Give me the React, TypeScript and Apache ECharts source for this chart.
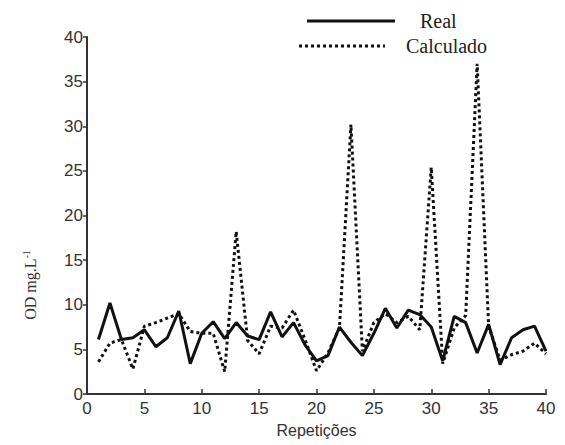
import React, { useEffect, useRef } from "react";
import * as echarts from "echarts";

const repeticoes = Array.from({ length: 40 }, (_, i) => i + 1);
const real = [
  6.1, 10.2, 6.1, 6.3, 7.2, 5.3, 6.3, 9.3, 3.4, 6.8,
  8.1, 6.2, 8.0, 6.5, 6.1, 9.2, 6.4, 8.0, 5.5, 3.7,
  4.3, 7.5, 5.8, 4.3, 6.8, 9.6, 7.4, 9.4, 8.9, 7.5,
  3.7, 8.7, 8.0, 4.6, 7.8, 3.3, 6.3, 7.2, 7.6, 4.8,
];
const calculado = [
  3.6, 5.7, 6.1, 2.8, 7.6, 8.0, 8.5, 9.0, 7.0, 6.8,
  6.8, 2.5, 18.2, 6.0, 4.5, 7.6, 7.4, 9.4, 6.1, 2.6,
  4.6, 7.4, 30.2, 4.8, 8.0, 9.0, 8.0, 8.7, 7.2, 25.4,
  3.4, 7.4, 8.8, 37.0, 7.6, 3.8, 4.4, 4.8, 5.7, 4.5,
];
const seriesNames = ["Real", "Calculado"];
const xTicks = { min: 0, max: 40, interval: 5 };
const yTicks = { min: 0, max: 40, interval: 5 };

export default function App() {
  const ref = useRef<HTMLDivElement>(null);
  useEffect(() => {
    document.body.style.margin = "0";
    if (!ref.current) return;
    const chart = echarts.init(ref.current, null, { renderer: "svg" });
    const sans = "Liberation Sans";
    const serif = "Liberation Serif";
    const dotted = [3, 3];
    chart.setOption({
      animation: false,
      backgroundColor: "#ffffff",
      grid: { left: 87, right: 19, top: 37, bottom: 51 },
      xAxis: {
        type: "value",
        min: xTicks.min,
        max: xTicks.max,
        interval: xTicks.interval,
        name: "Repetições",
        nameLocation: "middle",
        nameGap: 28,
        nameTextStyle: { fontFamily: sans, fontSize: 16, color: "#333" },
        axisLine: { show: true, lineStyle: { color: "#333", width: 2 } },
        axisTick: { show: true, inside: true, length: 5, lineStyle: { color: "#333", width: 1.5 } },
        axisLabel: { fontFamily: sans, fontSize: 17, color: "#333", margin: 6 },
        splitLine: { show: false },
      },
      yAxis: {
        type: "value",
        min: yTicks.min,
        max: yTicks.max,
        interval: yTicks.interval,
        axisLine: { show: true, lineStyle: { color: "#333", width: 2 } },
        axisTick: { show: true, inside: false, length: 4, lineStyle: { color: "#333", width: 1.5 } },
        axisLabel: { fontFamily: sans, fontSize: 17, color: "#333", margin: 4 },
        splitLine: { show: false },
      },
      graphic: [
        {
          type: "text",
          x: 30,
          y: 285,
          rotation: Math.PI / 2,
          style: {
            text: "OD mg.L{sup|-1}",
            fontFamily: serif,
            fontSize: 16,
            fill: "#333",
            align: "center",
            verticalAlign: "middle",
            rich: { sup: { fontFamily: serif, fontSize: 10, verticalAlign: "top", padding: [0, 0, 8, 0] } },
          },
        },
        {
          type: "line",
          shape: { x1: 307, y1: 21, x2: 395, y2: 21 },
          style: { stroke: "#111", lineWidth: 3 },
        },
        {
          type: "text",
          x: 420,
          y: 21,
          style: { text: seriesNames[0], fontFamily: serif, fontSize: 20, fill: "#222", verticalAlign: "middle" },
        },
        {
          type: "line",
          shape: { x1: 299, y1: 46, x2: 385, y2: 46 },
          style: { stroke: "#111", lineWidth: 3, lineDash: dotted },
        },
        {
          type: "text",
          x: 406,
          y: 46,
          style: { text: seriesNames[1], fontFamily: serif, fontSize: 20, fill: "#222", verticalAlign: "middle" },
        },
      ],
      series: [
        {
          name: seriesNames[0],
          type: "line",
          data: repeticoes.map((x, i) => [x, real[i]]),
          symbol: "none",
          lineStyle: { color: "#111", width: 3, type: "solid" },
        },
        {
          name: seriesNames[1],
          type: "line",
          data: repeticoes.map((x, i) => [x, calculado[i]]),
          symbol: "none",
          lineStyle: { color: "#111", width: 3, type: dotted },
        },
      ],
    });
    return () => chart.dispose();
  }, []);
  return <div ref={ref} style={{ width: 565, height: 445 }} />;
}
